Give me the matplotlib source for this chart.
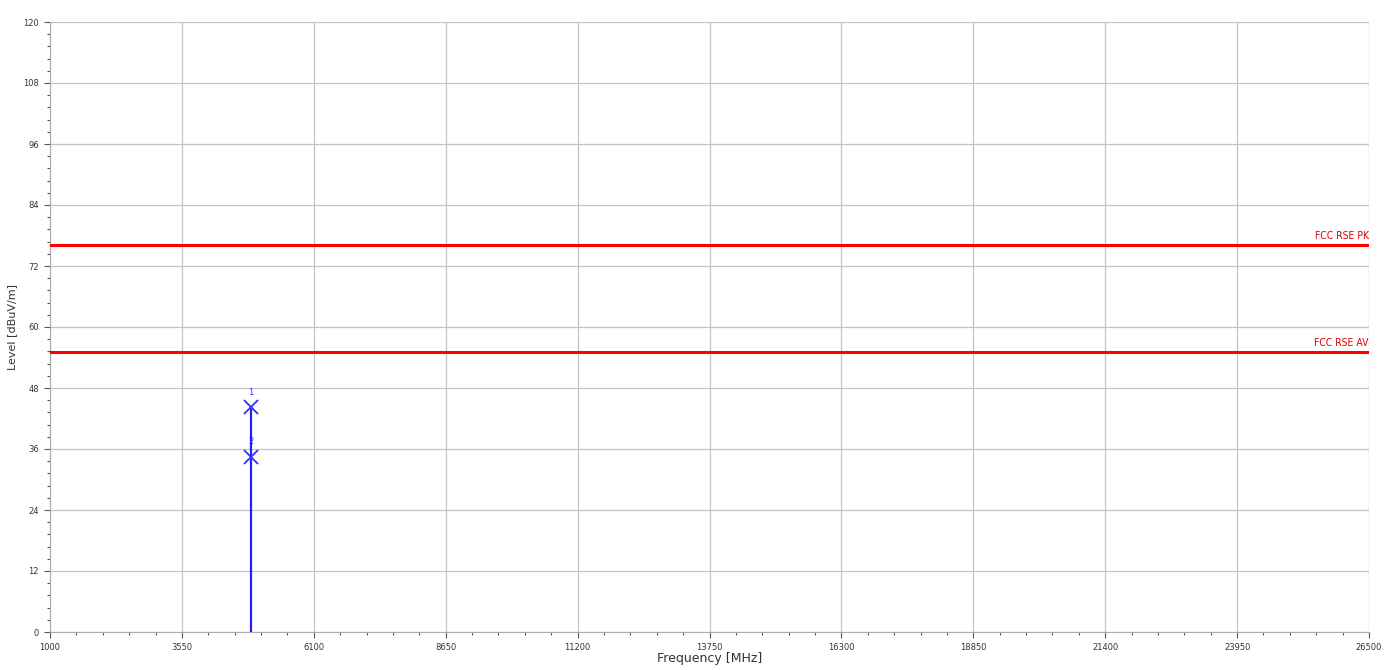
"""Radiated spurious emission scan, 1-26.5 GHz, with FCC limit lines."""

import matplotlib
matplotlib.use("Agg")
import matplotlib.pyplot as plt
from matplotlib.ticker import AutoMinorLocator

# Axis ranges and ticks
x_ticks = [1000, 3550, 6100, 8650, 11200, 13750, 16300, 18850, 21400, 23950, 26500]
y_ticks = [0, 12, 24, 36, 48, 60, 72, 84, 96, 108, 120]

# Limit lines (dBuV/m)
limit_names = ["FCC RSE PK", "FCC RSE AV"]
limit_levels = [76.2, 55.0]

# Measured spike and its markers
trace_freq = [4880, 4880]
trace_level = [0, 44.2]
marker_ids = ["1", "2"]
marker_freq = [4880, 4880]
marker_level = [44.2, 34.5]

fig = plt.figure(figsize=(13.97, 6.70), dpi=100)
ax = fig.add_axes([50 / 1397, 38 / 670, 1319 / 1397, 610 / 670])

ax.set_xlim(x_ticks[0], x_ticks[-1])
ax.set_ylim(y_ticks[0], y_ticks[-1])
ax.set_xticks(x_ticks)
ax.set_yticks(y_ticks)
ax.xaxis.set_minor_locator(AutoMinorLocator(5))
ax.yaxis.set_minor_locator(AutoMinorLocator(5))
ax.grid(True, which="major", color="#c4c4c4", linewidth=0.9)
ax.set_axisbelow(True)

ax.tick_params(which="major", length=4, width=0.8, color="#555555",
               labelsize=6, labelcolor="#333333", pad=4)
ax.tick_params(which="minor", length=2.5, width=0.8, color="#555555")

for side in ["top", "right"]:
    ax.spines[side].set_visible(False)
for side in ["left", "bottom"]:
    ax.spines[side].set_color("#aaaaaa")
    ax.spines[side].set_linewidth(0.8)

# Limit lines with their names just above, right aligned
for name, level in zip(limit_names, limit_levels):
    ax.axhline(level, color="#ff0000", linewidth=2.2, zorder=3)
    ax.text(x_ticks[-1], level + 0.8, name, color="#e00000", fontsize=7.5,
            ha="right", va="bottom", fontstretch="condensed")

# Spike trace
ax.plot(trace_freq, trace_level, color="#2020ff", linewidth=1.6, zorder=4)

# Markers
for mid, f, lv in zip(marker_ids, marker_freq, marker_level):
    ax.plot(f, lv, marker="x", markersize=10, markeredgewidth=1.3,
            color="#3030ff", zorder=5)
    ax.text(f, lv + 2.0, mid, color="#3030ff", fontsize=6,
            ha="center", va="bottom")

ax.set_xlabel("Frequency [MHz]", fontsize=9, color="#333333", labelpad=0)
ax.set_ylabel("Level [dBuV/m]", fontsize=8, color="#333333", labelpad=4)

fig.savefig("out.png", dpi=100)
